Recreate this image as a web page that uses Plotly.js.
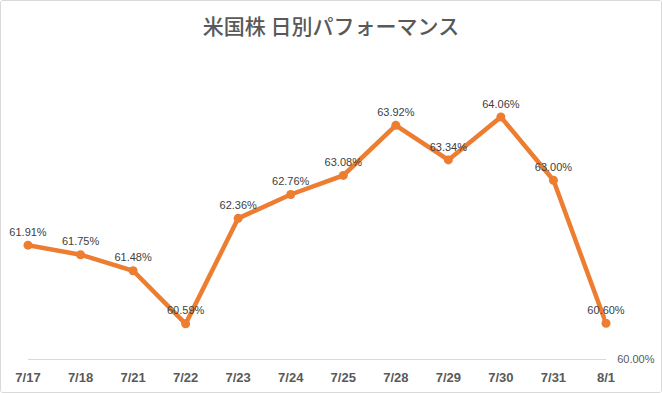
<!DOCTYPE html>
<html>
<head>
<meta charset="utf-8">
<script src="https://cdn.plot.ly/plotly-3.0.1.min.js"></script>
<style>
  html, body { margin: 0; padding: 0; background: #fff; }
  #frame { width: 662px; height: 393px; box-sizing: border-box; border: 1px solid #d9d9d9; border-radius: 3px; overflow: hidden; }
  #chart { width: 660px; height: 391px; }
</style>
</head>
<body>
<div id="frame"><div id="chart"></div></div>
<script>
const categories = ["7/17","7/18","7/21","7/22","7/23","7/24","7/25","7/28","7/29","7/30","7/31","8/1"];
const values = [61.91, 61.75, 61.48, 60.59, 62.36, 62.76, 63.08, 63.92, 63.34, 64.06, 63.00, 60.60];
const yTickVals = [60];
const yTickText = ["60.00%"];

const trace = {
  x: categories,
  y: values,
  type: "scatter",
  mode: "lines+markers+text",
  line: { color: "#ED7D31", width: 4.5 },
  marker: { color: "#ED7D31", size: 9 },
  texttemplate: "%{y:.2f}%",
  textposition: "top center",
  textfont: { family: "Liberation Sans, Arial, sans-serif", size: 11, color: "#404040" },
  cliponaxis: false,
  hoverinfo: "skip"
};

const layout = {
  width: 660,
  height: 391,
  margin: { l: 27, r: 55, t: 60, b: 33 },
  paper_bgcolor: "#ffffff",
  plot_bgcolor: "#ffffff",
  showlegend: false,
  title: {
    text: "米国株 日別パフォーマンス",
    font: { family: "Noto Sans CJK JP, sans-serif", size: 21, color: "#595959", weight: 500 },
    x: 0.5, xanchor: "center", y: 0.935, yanchor: "middle"
  },
  xaxis: {
    type: "category",
    range: [0, categories.length - 1],
    showgrid: false,
    zeroline: false,
    showline: true,
    linecolor: "#d9d9d9",
    linewidth: 1,
    ticks: "outside",
    ticklen: 6,
    tickcolor: "rgba(0,0,0,0)",
    tickfont: { family: "Liberation Sans, Arial, sans-serif", size: 13, color: "#595959", weight: "bold" }
  },
  yaxis: {
    range: [60, 65],
    side: "right",
    showgrid: false,
    zeroline: false,
    showline: false,
    tickvals: yTickVals,
    ticktext: yTickText,
    ticks: "outside",
    ticklen: 8,
    tickcolor: "rgba(0,0,0,0)",
    tickfont: { family: "Liberation Sans, Arial, sans-serif", size: 11, color: "#595959" }
  }
};

Plotly.newPlot("chart", [trace], layout, { displayModeBar: false, staticPlot: true });
</script>
</body>
</html>
